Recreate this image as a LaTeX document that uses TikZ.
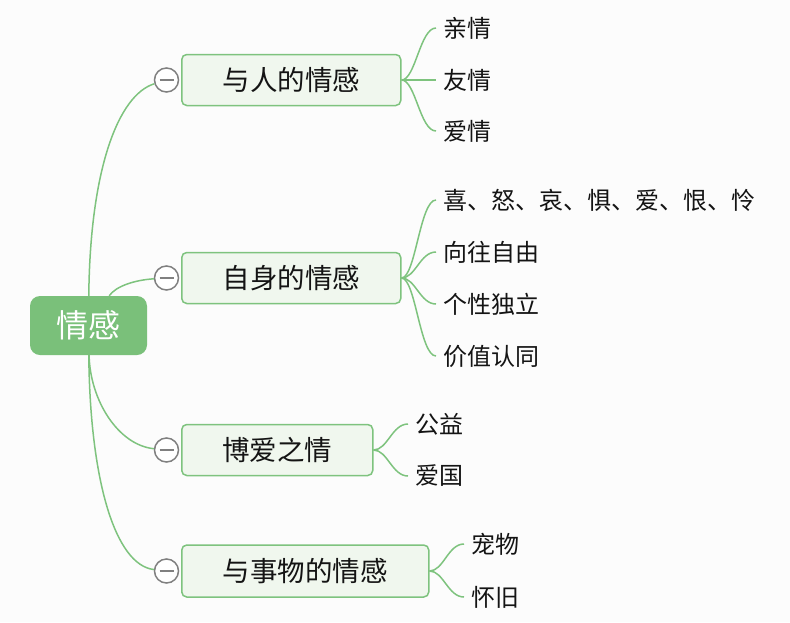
\documentclass[tikz,border=0pt]{standalone}
\usepackage{fontspec}
\newfontfamily\cjk{Noto Sans CJK SC}
\definecolor{mapgreen}{RGB}{126,195,126}
\definecolor{rootfill}{RGB}{122,192,122}
\definecolor{boxfill}{RGB}{240,247,238}
\definecolor{foldgray}{RGB}{128,128,128}
\definecolor{inkgray}{RGB}{20,20,20}
\definecolor{paper}{RGB}{252,252,252}

\tikzset{
  root/.style={fill=rootfill, rounded corners=10pt, minimum width=117pt, minimum height=59pt, text=white, font=\cjk\fontsize{32}{36}\selectfont},
  topic/.style={draw=mapgreen, fill=boxfill, line width=1.5pt, rounded corners=5pt, minimum height=51pt, anchor=west, text=inkgray, font=\cjk\fontsize{27.5}{31}\selectfont},
  leaf/.style={anchor=west, inner xsep=7pt, inner ysep=0pt, text=inkgray, font=\cjk\fontsize{24}{28}\selectfont},
  fold/.style={circle, draw=foldgray, fill=white, line width=1.5pt, minimum size=24pt, inner sep=0pt,
    path picture={\draw[foldgray, line width=1.5pt] ([xshift=-7pt]path picture bounding box.center) -- ([xshift=7pt]path picture bounding box.center);}},
  branch/.style={draw=mapgreen, line width=1.5pt},
}

\begin{document}
\begin{tikzpicture}[x=1pt, y=-1pt]
  % page
  \fill[paper] (0,0) rectangle (790,622);
  \useasboundingbox (0,0) rectangle (790,622);

  % centre topic
  \node[root] (emotion) at (88.5,325.5) {情感};

  % main topics
  \node[topic, minimum width=219pt] (people) at (181,80) {与人的情感};
  \node[topic, minimum width=219pt] (self) at (181,278) {自身的情感};
  \node[topic, minimum width=191pt] (love) at (181,450) {博爱之情};
  \node[topic, minimum width=247pt, minimum height=52pt] (things) at (181,571) {与事物的情感};

  % collapse buttons
  \node[fold] (peoplefold) at (166.5,80) {};
  \node[fold] (selffold) at (166.5,278) {};
  \node[fold] (lovefold) at (166.5,450) {};
  \node[fold] (thingsfold) at (166.5,571) {};

  % centre -> main topics
  \draw[branch] (emotion) .. controls (90,170) and (118,95) .. (peoplefold);
  \draw[branch] (emotion) .. controls (116,286) and (135,280) .. (selffold);
  \draw[branch] (emotion) .. controls (90,400) and (118,445) .. (lovefold);
  \draw[branch] (emotion) .. controls (90,480) and (115,565) .. (thingsfold);

  % shape 1: people
  \node[leaf] (kin) at (436,28) {亲情};
  \node[leaf] (friend) at (436,80) {友情};
  \node[leaf] (romance) at (436,131) {爱情};
  \foreach \leafname in {kin,friend,romance}
    \draw[branch] (people.east) .. controls +(14,0) and +(-16,0) .. (\leafname.west);

  % shape 2: self
  \node[leaf] (moods) at (436,200) {喜、怒、哀、惧、爱、恨、怜};
  \node[leaf] (freedom) at (436,252) {向往自由};
  \node[leaf] (indep) at (436,304) {个性独立};
  \node[leaf] (values) at (436,356) {价值认同};
  \foreach \leafname in {moods,freedom,indep,values}
    \draw[branch] (self.east) .. controls +(14,0) and +(-16,0) .. (\leafname.west);

  % shape 3: love
  \node[leaf] (charity) at (408,424) {公益};
  \node[leaf] (country) at (408,476) {爱国};
  \foreach \leafname in {charity,country}
    \draw[branch] (love.east) .. controls +(14,0) and +(-16,0) .. (\leafname.west);

  % shape 4: things
  \node[leaf] (pets) at (464,544) {宠物};
  \node[leaf] (nostalgia) at (464,597) {怀旧};
  \foreach \leafname in {pets,nostalgia}
    \draw[branch] (things.east) .. controls +(14,0) and +(-16,0) .. (\leafname.west);
\end{tikzpicture}
\end{document}
